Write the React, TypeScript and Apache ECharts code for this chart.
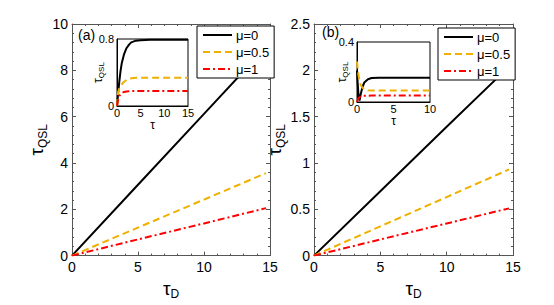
import React, { useEffect, useRef } from "react";
import * as echarts from "echarts";

// ---- data ----
const seriesNames = ["μ=0", "μ=0.5", "μ=1"];
const mainTau = [0, 5, 10, 14.7];
const aMu0 = [0, 3.06, 6.12, 9.0];
const aMu05 = [0, 1.21, 2.42, 3.56];
const aMu1 = [0, 0.7, 1.39, 2.05];
const bMu0 = [0, 0.695, 1.39, 2.04];
const bMu05 = [0, 0.316, 0.632, 0.93];
const bMu1 = [0, 0.174, 0.347, 0.51];

const insetATau = [0, 0.25, 0.5, 0.75, 1, 1.5, 2, 2.5, 3, 4, 5, 7, 10, 15];
const insetAMu0 = [0, 0.16, 0.3, 0.42, 0.51, 0.62, 0.69, 0.73, 0.76, 0.78, 0.785, 0.79, 0.79, 0.79];
const insetAMu05 = [0, 0.17, 0.21, 0.24, 0.26, 0.29, 0.31, 0.32, 0.33, 0.336, 0.338, 0.338, 0.338, 0.338];
const insetAMu1 = [0, 0.08, 0.12, 0.14, 0.155, 0.168, 0.174, 0.177, 0.178, 0.179, 0.179, 0.179, 0.179, 0.179];

const insetBTau = [0, 0.1, 0.2, 0.35, 0.5, 0.75, 1, 1.5, 2, 3, 5, 10];
const insetBMu0 = [0.21, 0.12, 0.05, 0.01, 0.05, 0.1, 0.13, 0.152, 0.16, 0.162, 0.162, 0.162];
const insetBMu05 = [0.27, 0.22, 0.18, 0.14, 0.115, 0.095, 0.085, 0.078, 0.076, 0.076, 0.076, 0.076];
const insetBMu1 = [0, 0.015, 0.025, 0.032, 0.036, 0.04, 0.041, 0.042, 0.043, 0.043, 0.043, 0.043];

const FONT = "Liberation Sans, Arial, sans-serif";
const COLORS = ["#000000", "#f0b000", "#ff0000"];
const DASHES: any[] = ["solid", [7, 4], [7, 3, 2, 3]];
const AXIS_COLOR = "#555555";

const zip = (xs: number[], ys: number[]) => xs.map((x, i) => [x, ys[i]]);

const tauName = (big: number, small: number, sub: string, pad: number) => ({
  name: `{t|τ}{s|${sub}}`,
  nameTextStyle: {
    rich: {
      t: { fontSize: big, fontFamily: FONT, color: "#000" },
      s: { fontSize: small, fontFamily: FONT, color: "#000", padding: [pad, 0, 0, 0] },
    },
  },
});

function mainX(gridIndex: number, top: boolean) {
  return {
    type: "value",
    gridIndex,
    position: top ? "top" : "bottom",
    min: 0,
    max: 15,
    interval: 5,
    axisLine: { show: true, onZero: false, lineStyle: { color: AXIS_COLOR, width: 1 } },
    axisTick: { show: true, inside: true, length: 4, lineStyle: { color: AXIS_COLOR } },
    minorTick: { show: true, splitNumber: 5, length: 2, lineStyle: { color: AXIS_COLOR } },
    splitLine: { show: false },
    axisLabel: top
      ? { show: false }
      : { show: true, fontSize: 14, fontFamily: FONT, color: "#000", margin: 4 },
    ...(top ? {} : { ...tauName(19, 12, "D", 12), nameLocation: "middle", nameGap: 18 }),
  };
}

function mainY(gridIndex: number, right: boolean, max: number, interval: number, gap: number) {
  return {
    type: "value",
    gridIndex,
    position: right ? "right" : "left",
    min: 0,
    max,
    interval,
    axisLine: { show: true, onZero: false, lineStyle: { color: AXIS_COLOR, width: 1 } },
    axisTick: { show: true, inside: true, length: 4, lineStyle: { color: AXIS_COLOR } },
    minorTick: { show: true, splitNumber: 5, length: 2, lineStyle: { color: AXIS_COLOR } },
    splitLine: { show: false },
    axisLabel: right
      ? { show: false }
      : { show: true, fontSize: 14, fontFamily: FONT, color: "#000", margin: 4 },
    ...(right
      ? {}
      : { ...tauName(19, 12, "QSL", 12), nameLocation: "middle", nameGap: gap, nameRotate: 90 }),
  };
}

function insetX(gridIndex: number, max: number) {
  return {
    type: "value",
    gridIndex,
    min: 0,
    max,
    interval: 5,
    axisLine: { show: true, onZero: false, lineStyle: { color: "#000", width: 1 } },
    axisTick: { show: false },
    splitLine: { show: false },
    axisLabel: { show: true, fontSize: 11, fontFamily: FONT, color: "#000", margin: 1 },
    name: "τ",
    nameLocation: "middle",
    nameGap: 5,
    nameTextStyle: { fontSize: 12, fontFamily: FONT, color: "#000" },
    z: 5,
  };
}

function insetY(gridIndex: number, max: number, gap: number) {
  return {
    type: "value",
    gridIndex,
    min: 0,
    max,
    interval: max,
    axisLine: { show: true, onZero: false, lineStyle: { color: "#000", width: 1 } },
    axisTick: { show: false },
    splitLine: { show: false },
    axisLabel: { show: true, fontSize: 11, fontFamily: FONT, color: "#000", margin: 3 },
    ...tauName(12, 8, "QSL", 7),
    nameLocation: "middle",
    nameGap: gap,
    nameRotate: 90,
    nameMoveOverlap: false,
    z: 5,
  };
}

function lineSeries(name: string, idx: number, xi: number, yi: number, data: number[][], width: number, z: number) {
  return {
    name,
    type: "line",
    xAxisIndex: xi,
    yAxisIndex: yi,
    data,
    symbol: "none",
    showSymbol: false,
    z,
    lineStyle: { color: COLORS[idx], width, type: DASHES[idx] },
    itemStyle: { color: COLORS[idx] },
  };
}

function legend(left: number, top: number) {
  return {
    left,
    top,
    orient: "vertical",
    data: seriesNames,
    itemWidth: 29,
    itemHeight: 12,
    itemGap: 3,
    padding: [2, 5, 2, 5],
    backgroundColor: "#fff",
    borderColor: "#000",
    borderWidth: 1,
    borderRadius: 0,
    selectedMode: false,
    itemStyle: { opacity: 0 },
    lineStyle: { width: 2 },
    textStyle: { fontSize: 13, fontFamily: FONT, color: "#000", lineHeight: 14, padding: [0, 0, 0, -1] },
    z: 10,
  };
}

export default function App() {
  const ref = useRef<HTMLDivElement>(null);
  useEffect(() => {
    if (!ref.current) return;
    const chart = echarts.init(ref.current, null, { renderer: "svg" });
    const option: any = {
      animation: false,
      backgroundColor: "#fff",
      grid: [
        { left: 72, top: 24, width: 198, height: 237 },
        { left: 314, top: 24, width: 199, height: 237 },
        { left: 117, top: 39, width: 71, height: 67, show: true, backgroundColor: "#fff", borderColor: "#000", borderWidth: 1, z: 3 },
        { left: 357, top: 42, width: 73, height: 60, show: true, backgroundColor: "#fff", borderColor: "#000", borderWidth: 1, z: 3 },
      ],
      xAxis: [mainX(0, false), mainX(0, true), mainX(1, false), mainX(1, true), insetX(2, 15), insetX(3, 10)],
      yAxis: [
        mainY(0, false, 10, 2, 22),
        mainY(0, true, 10, 2, 22),
        mainY(1, false, 2.5, 0.5, 16),
        mainY(1, true, 2.5, 0.5, 16),
        insetY(2, 0.8, 12),
        insetY(3, 0.4, 8),
      ],
      legend: [legend(197, 26), legend(438, 28)],
      graphic: [
        { type: "text", left: 78, top: 28, style: { text: "(a)", fontSize: 14, fontFamily: FONT, fill: "#000" }, z: 10 },
        { type: "text", left: 322, top: 25, style: { text: "(b)", fontSize: 14, fontFamily: FONT, fill: "#000" }, z: 10 },
      ],
      series: [
        lineSeries(seriesNames[0], 0, 0, 0, zip(mainTau, aMu0), 2, 2),
        lineSeries(seriesNames[1], 1, 0, 0, zip(mainTau, aMu05), 2, 2),
        lineSeries(seriesNames[2], 2, 0, 0, zip(mainTau, aMu1), 2, 2),
        lineSeries(seriesNames[0], 0, 2, 2, zip(mainTau, bMu0), 2, 2),
        lineSeries(seriesNames[1], 1, 2, 2, zip(mainTau, bMu05), 2, 2),
        lineSeries(seriesNames[2], 2, 2, 2, zip(mainTau, bMu1), 2, 2),
        lineSeries("inset a μ=0", 0, 4, 4, zip(insetATau, insetAMu0), 2, 6),
        lineSeries("inset a μ=0.5", 1, 4, 4, zip(insetATau, insetAMu05), 2, 6),
        lineSeries("inset a μ=1", 2, 4, 4, zip(insetATau, insetAMu1), 2, 6),
        lineSeries("inset b μ=0", 0, 5, 5, zip(insetBTau, insetBMu0), 2, 6),
        lineSeries("inset b μ=0.5", 1, 5, 5, zip(insetBTau, insetBMu05), 2, 6),
        lineSeries("inset b μ=1", 2, 5, 5, zip(insetBTau, insetBMu1), 2, 6),
      ],
    };
    chart.setOption(option);
    return () => chart.dispose();
  }, []);
  return (
    <div
      ref={ref}
      style={{ position: "fixed", left: 0, top: 0, width: 554, height: 305, background: "#fff" }}
    />
  );
}
